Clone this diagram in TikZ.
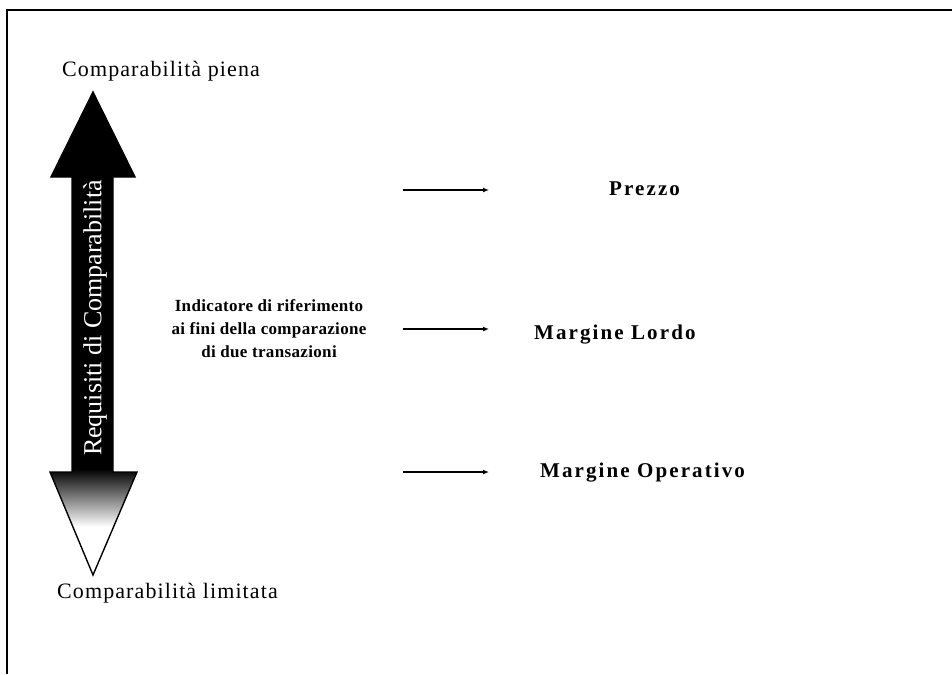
\documentclass[tikz,border=0pt]{standalone}
\usepackage{fontspec}
\setmainfont{Liberation Serif}
\usetikzlibrary{calc,arrows.meta}
% vertical fade: white at the lower tip, black over most of the shaft
\pgfdeclareverticalshading{fadebw}{100bp}{color(0bp)=(white); color(30bp)=(white); color(36bp)=(black); color(100bp)=(black)}
\begin{document}
\begin{tikzpicture}[x=1pt,y=-1pt,
  endlabel/.style={font=\fontsize{22}{26}\selectfont\addfontfeature{LetterSpace=5}, anchor=base west, inner sep=0pt},
  measure/.style={font=\fontsize{21}{25}\selectfont\bfseries\addfontfeature{LetterSpace=10}, anchor=base west, inner sep=0pt},
  pointer/.style={line width=1.6pt, -{Latex[length=6pt,width=5pt]}},
  reqtext/.style={rotate=90, font=\fontsize{26}{30}\selectfont, inner sep=0pt}]
\useasboundingbox (0,0) rectangle (952,674);

% frame lines
\draw[line width=2pt] (7,674) -- (7,10) -- (952,10);

% double-headed scale arrow
\shade[shading=fadebw, draw=black, line width=1.4pt, line join=miter]
  (93,92) -- (135,177) -- (113,177) -- (113,472) -- (137,472) -- (93,575)
  -- (50,472) -- (72,472) -- (72,177) -- (51,177) -- cycle;

% outlined vertical caption inside the shaft
\coordinate (rq) at (95,318);
\foreach \a in {0,30,...,330}
  \node[reqtext, text=black] (rqo\a) at ($(rq)+(\a:1.3pt)$) {Requisiti di Comparabilità};
\node[reqtext, text=white] (req) at (rq) {Requisiti di Comparabilità};

% end labels
\node[endlabel] (piena) at (62,77) {Comparabilità piena};
\node[endlabel] (limitata) at (57,598) {Comparabilità limitata};

% reference indicator text
\node[font=\fontsize{17}{23}\selectfont\bfseries\addfontfeature{LetterSpace=2}, align=center, inner sep=0pt] (ind) at (269,329)
  {Indicatore di riferimento\\ai fini della comparazione\\di due transazioni};

% pointers
\coordinate (p1s) at (403,190); \coordinate (p1e) at (489,190);
\coordinate (p2s) at (403,329); \coordinate (p2e) at (489,329);
\coordinate (p3s) at (403,472); \coordinate (p3e) at (489,472);
\draw[pointer] (p1s) -- (p1e);
\draw[pointer] (p2s) -- (p2e);
\draw[pointer] (p3s) -- (p3e);

% measures
\node[measure] (prezzo) at (609,195) {Prezzo};
\node[measure] (lordo) at (534,339) {Margine Lordo};
\node[measure] (operativo) at (540,477) {Margine Operativo};
\end{tikzpicture}
\end{document}
